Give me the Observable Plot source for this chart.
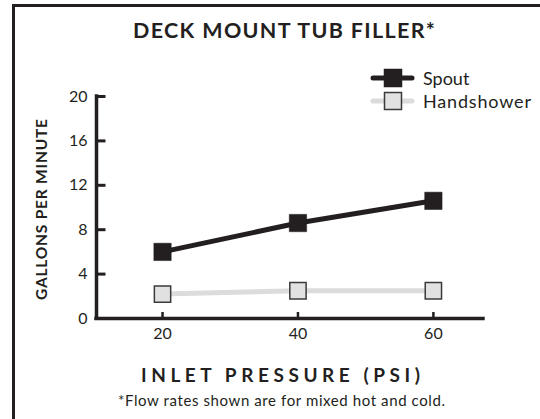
<!DOCTYPE html>
<html>
<head>
<meta charset="utf-8">
<script src="https://cdn.jsdelivr.net/npm/d3@7"></script>
<script src="https://cdn.jsdelivr.net/npm/@observablehq/plot@0.6"></script>
<style>
  html, body { margin: 0; padding: 0; background: #fff; }
  #wrap { position: relative; width: 540px; height: 419px; overflow: hidden; font-family: Lato, "Open Sans", sans-serif; color: #231f20; }
  #frame { position: absolute; left: 12px; top: 4px; width: 600px; height: 600px; border-top: 3px solid #231f20; border-left: 3px solid #231f20; }
  #chart { position: absolute; left: 0; top: 0; }
  #overlay { position: absolute; left: 0; top: 0; pointer-events: none; }
</style>
</head>
<body>
<div id="wrap">
  <div id="frame"></div>
  <div id="chart"></div>
  <svg id="overlay" width="540" height="419" font-family="Lato, 'Open Sans', sans-serif" fill="#231f20"></svg>
</div>
<script>
// ---- data ----
const title = "DECK MOUNT TUB FILLER*";
const xLabel = "INLET PRESSURE (PSI)";
const yLabel = "GALLONS PER MINUTE";
const caption = "*Flow rates shown are for mixed hot and cold.";
const seriesNames = ["Spout", "Handshower"];
const pressure = [20, 40, 60];
const spout = [6.0, 8.6, 10.6];
const handshower = [2.2, 2.5, 2.5];
const yTicks = [0, 4, 8, 12, 16, 20];
const xTicks = [20, 40, 60];
const xDomain = [10.25, 67.4];
const yDomain = [0, 20];

const ink = "#231f20";
const lightLine = "#dcdcdc";
const lightFill = "#e1e1e1";

const spoutRows = pressure.map((p, i) => ({x: p, y: spout[i], s: seriesNames[0]}));
const handRows = pressure.map((p, i) => ({x: p, y: handshower[i], s: seriesNames[1]}));

// inward-pointing tick glyphs
const tickRight = {draw(ctx) { ctx.moveTo(0, 0); ctx.lineTo(9, 0); }};
const tickUp = {draw(ctx) { ctx.moveTo(0, 0); ctx.lineTo(0, -6.5); }};

const plot = Plot.plot({
  width: 540,
  height: 419,
  marginLeft: 96,
  marginRight: 57,
  marginTop: 96,
  marginBottom: 101,
  style: {fontFamily: "Lato, 'Open Sans', sans-serif", color: ink, background: "transparent", fontSize: "16px"},
  x: {domain: xDomain},
  y: {domain: yDomain},
  marks: [
    Plot.line(handRows, {x: "x", y: "y", stroke: lightLine, strokeWidth: 5}),
    Plot.dot(handRows, {x: "x", y: "y", symbol: "square", r: 9.2, fill: lightFill, stroke: "#3a3a3a", strokeWidth: 1.5}),
    Plot.line(spoutRows, {x: "x", y: "y", stroke: ink, strokeWidth: 5}),
    Plot.dot(spoutRows, {x: "x", y: "y", symbol: "square", r: 9.8, fill: ink, stroke: ink, strokeWidth: 0.5}),
    Plot.axisY({ticks: yTicks, tickSize: 0, tickPadding: 9, label: null, fontSize: 16, fill: ink}),
    Plot.axisX({ticks: xTicks, tickSize: 0, tickPadding: 9, label: null, fontSize: 16, fill: ink}),
    Plot.dot(yTicks, {x: () => xDomain[0], y: d => d, symbol: tickRight, fill: "none", stroke: ink, strokeWidth: 3}),
    Plot.dot(xTicks, {x: d => d, y: () => yDomain[0], symbol: tickUp, fill: "none", stroke: ink, strokeWidth: 2.5}),
    Plot.ruleX([xDomain[0]], {y1: yDomain[0], y2: yDomain[1], stroke: ink, strokeWidth: 3.5, strokeLinecap: "square"}),
    Plot.ruleY([yDomain[0]], {x1: xDomain[0], x2: xDomain[1], stroke: ink, strokeWidth: 3.5, strokeLinecap: "square"})
  ]
});
document.getElementById("chart").appendChild(plot);

// ---- overlay: title, legend, axis titles, caption ----
const ov = d3.select("#overlay");
ov.append("text").attr("x", 284).attr("y", 37.5).attr("text-anchor", "middle")
  .attr("font-size", 21.5).attr("font-weight", 700)
  .attr("textLength", 302).attr("lengthAdjust", "spacing").text(title);

ov.append("text").attr("transform", "translate(46.5,209.5) rotate(-90)").attr("text-anchor", "middle")
  .attr("font-size", 15.5).attr("font-weight", 700)
  .attr("textLength", 181).attr("lengthAdjust", "spacing").text(yLabel);

ov.append("text").attr("x", 280.5).attr("y", 382).attr("text-anchor", "middle")
  .attr("font-size", 19).attr("font-weight", 700)
  .attr("textLength", 279).attr("lengthAdjust", "spacing").text(xLabel);

ov.append("text").attr("x", 281.5).attr("y", 406).attr("text-anchor", "middle")
  .attr("font-size", 15)
  .attr("textLength", 327).attr("lengthAdjust", "spacing").text(caption);

// legend
const legendRows = [
  {name: seriesNames[0], cy: 78, line: ink, fill: ink, stroke: ink, len: null},
  {name: seriesNames[1], cy: 101, line: lightLine, fill: lightFill, stroke: "#3a3a3a", len: 108}
];
legendRows.forEach(r => {
  ov.append("line").attr("x1", 373).attr("x2", 412).attr("y1", r.cy).attr("y2", r.cy)
    .attr("stroke", r.line).attr("stroke-width", 5).attr("stroke-linecap", "round");
  ov.append("rect").attr("x", 384.5).attr("y", r.cy - 8.5).attr("width", 17).attr("height", 17)
    .attr("fill", r.fill).attr("stroke", r.stroke).attr("stroke-width", 1.5);
  const t = ov.append("text").attr("x", 423).attr("y", r.cy + 6.5).attr("font-size", 18).text(r.name);
  if (r.len) t.attr("textLength", r.len).attr("lengthAdjust", "spacing");
});
</script>
</body>
</html>
